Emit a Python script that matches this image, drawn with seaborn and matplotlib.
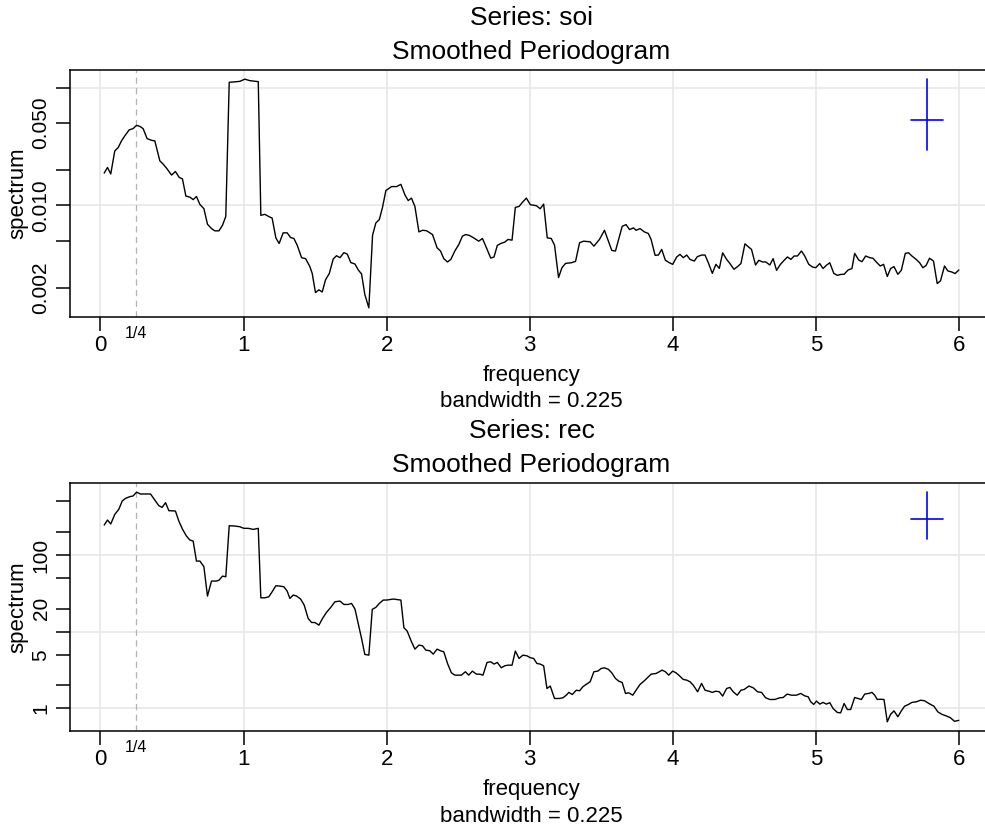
import numpy as np
import pandas as pd
import matplotlib
matplotlib.use("Agg")
import matplotlib.pyplot as plt
from matplotlib.ticker import FixedLocator, FixedFormatter, NullLocator
import seaborn as sns

# ---------------- data ----------------
soi_freq = [0.026, 0.049, 0.072, 0.100, 0.124, 0.147, 0.170, 0.200, 0.228, 0.252, 0.275, 0.298, 0.326, 0.357, 0.380,
            0.415, 0.438, 0.462, 0.497, 0.524, 0.550, 0.573, 0.597, 0.625, 0.648, 0.671, 0.695, 0.723, 0.748, 0.776,
            0.800, 0.828, 0.853, 0.876, 0.900, 0.928, 0.974, 1.009, 1.044, 1.103, 1.121, 1.149, 1.172, 1.200, 1.226,
            1.249, 1.277, 1.305, 1.329, 1.352, 1.375, 1.406, 1.434, 1.464, 1.480, 1.503, 1.527, 1.550, 1.573, 1.600,
            1.627, 1.650, 1.674, 1.702, 1.725, 1.750, 1.779, 1.802, 1.825, 1.848, 1.876, 1.902, 1.925, 1.949, 1.972,
            1.995, 2.035, 2.070, 2.100, 2.128, 2.151, 2.174, 2.198, 2.226, 2.251, 2.279, 2.321, 2.353, 2.377, 2.400,
            2.426, 2.449, 2.477, 2.505, 2.530, 2.553, 2.581, 2.609, 2.644, 2.670, 2.698, 2.728, 2.751, 2.774, 2.798,
            2.826, 2.849, 2.877, 2.900, 2.926, 2.949, 2.977, 3.005, 3.047, 3.074, 3.098, 3.123, 3.151, 3.174, 3.202,
            3.226, 3.251, 3.291, 3.321, 3.349, 3.377, 3.423, 3.449, 3.488, 3.523, 3.551, 3.574, 3.600, 3.623, 3.647,
            3.674, 3.698, 3.726, 3.744, 3.772, 3.802, 3.830, 3.849, 3.877, 3.900, 3.923, 3.949, 3.977, 4.000, 4.028,
            4.051, 4.074, 4.098, 4.121, 4.151, 4.172, 4.202, 4.226, 4.249, 4.277, 4.302, 4.326, 4.349, 4.377, 4.400,
            4.428, 4.453, 4.477, 4.505, 4.528, 4.551, 4.579, 4.602, 4.628, 4.651, 4.679, 4.702, 4.726, 4.753, 4.779,
            4.802, 4.826, 4.849, 4.872, 4.900, 4.923, 4.951, 4.977, 5.000, 5.028, 5.051, 5.074, 5.098, 5.126, 5.151,
            5.179, 5.198, 5.226, 5.253, 5.272, 5.300, 5.323, 5.349, 5.377, 5.400, 5.428, 5.451, 5.474, 5.500, 5.523,
            5.547, 5.574, 5.598, 5.626, 5.649, 5.672, 5.702, 5.726, 5.749, 5.772, 5.795, 5.823, 5.849, 5.872, 5.900,
            5.923, 5.951, 5.974, 6.000]
soi_spec = [0.0188, 0.0210, 0.0185, 0.0290, 0.0310, 0.0353, 0.0389, 0.0437, 0.0449, 0.0478, 0.0469, 0.0449, 0.0369,
            0.0357, 0.0353, 0.0239, 0.0224, 0.0207, 0.0181, 0.0194, 0.0173, 0.0168, 0.0120, 0.01175, 0.0112, 0.0119,
            0.0102, 0.00938, 0.00692, 0.00636, 0.00608, 0.00608, 0.00678, 0.00807, 0.111, 0.1116, 0.113, 0.118,
            0.1146, 0.1124, 0.00824, 0.0084, 0.0081, 0.0078, 0.0053, 0.00475, 0.00585, 0.00585, 0.00534, 0.00524,
            0.0046, 0.0036, 0.00353, 0.00302, 0.00265, 0.00182, 0.00192, 0.00184, 0.00233, 0.00265, 0.00351,
            0.00374, 0.0036, 0.00397, 0.00386, 0.00327, 0.00318, 0.00283, 0.00262, 0.00175, 0.00135, 0.00558,
            0.0071, 0.00757, 0.00968, 0.01337, 0.01445, 0.01445, 0.0151, 0.0123, 0.0110, 0.01153, 0.0098, 0.00596,
            0.00615, 0.0061, 0.00566, 0.00437, 0.0041, 0.00353, 0.00331, 0.00348, 0.0041, 0.00466, 0.00548,
            0.00566, 0.00555, 0.0053, 0.00497, 0.00524, 0.00437, 0.00357, 0.00365, 0.00457, 0.00475, 0.00488,
            0.00514, 0.00507, 0.00962, 0.0098, 0.0106, 0.01153, 0.01014, 0.00994, 0.00937, 0.01026, 0.0053,
            0.00524, 0.0046, 0.00244, 0.00296, 0.00322, 0.00326, 0.00335, 0.00482, 0.00497, 0.00491, 0.00451,
            0.00514, 0.00615, 0.00497, 0.00415, 0.0041, 0.0052, 0.00665, 0.00687, 0.00624, 0.00644, 0.00615,
            0.00635, 0.00596, 0.00577, 0.00514, 0.00377, 0.00379, 0.00423, 0.00342, 0.00326, 0.00316, 0.00365,
            0.00384, 0.0036, 0.00379, 0.00348, 0.00337, 0.00367, 0.00379, 0.00379, 0.00326, 0.00265, 0.00316,
            0.00292, 0.00396, 0.00348, 0.00321, 0.00287, 0.00302, 0.00321, 0.00472, 0.00446, 0.00423, 0.00312,
            0.00342, 0.00331, 0.00331, 0.00312, 0.00353, 0.00281, 0.00316, 0.00342, 0.00365, 0.00348, 0.00372,
            0.00372, 0.0041, 0.00372, 0.00316, 0.0030, 0.00296, 0.00321, 0.00291, 0.0031, 0.00326, 0.00265,
            0.00255, 0.0026, 0.0026, 0.00283, 0.00291, 0.00392, 0.00344, 0.00333, 0.00372, 0.0036, 0.00356,
            0.00326, 0.00306, 0.00316, 0.00249, 0.00291, 0.00302, 0.0026, 0.00281, 0.00392, 0.00396, 0.00372,
            0.00348, 0.00326, 0.00296, 0.0031, 0.00356, 0.00337, 0.00217, 0.00229, 0.00306, 0.00278, 0.00272,
            0.00264, 0.00283]

rec_freq = [0.026, 0.049, 0.072, 0.100, 0.128, 0.152, 0.175, 0.205, 0.228, 0.252, 0.280, 0.310, 0.350, 0.380, 0.408,
            0.431, 0.455, 0.478, 0.524, 0.548, 0.573, 0.601, 0.625, 0.648, 0.671, 0.695, 0.723, 0.748, 0.776, 0.811,
            0.830, 0.853, 0.876, 0.900, 0.939, 0.974, 1.002, 1.033, 1.068, 1.103, 1.121, 1.149, 1.177, 1.200, 1.226,
            1.254, 1.282, 1.305, 1.324, 1.347, 1.371, 1.399, 1.424, 1.452, 1.476, 1.499, 1.527, 1.552, 1.580, 1.608,
            1.639, 1.674, 1.702, 1.732, 1.755, 1.779, 1.802, 1.825, 1.848, 1.876, 1.900, 1.925, 1.949, 1.977, 2.000,
            2.047, 2.100, 2.121, 2.144, 2.174, 2.198, 2.226, 2.251, 2.274, 2.302, 2.326, 2.353, 2.377, 2.400, 2.426,
            2.453, 2.477, 2.523, 2.551, 2.574, 2.600, 2.628, 2.651, 2.674, 2.702, 2.728, 2.751, 2.774, 2.802, 2.826,
            2.849, 2.877, 2.900, 2.926, 2.953, 2.981, 3.005, 3.028, 3.051, 3.074, 3.098, 3.121, 3.144, 3.174, 3.209,
            3.233, 3.256, 3.274, 3.298, 3.326, 3.349, 3.372, 3.395, 3.423, 3.449, 3.477, 3.500, 3.523, 3.551, 3.574,
            3.600, 3.623, 3.647, 3.670, 3.693, 3.721, 3.744, 3.772, 3.802, 3.826, 3.849, 3.884, 3.926, 3.949, 3.972,
            4.000, 4.023, 4.047, 4.074, 4.098, 4.121, 4.144, 4.174, 4.202, 4.226, 4.253, 4.277, 4.300, 4.326, 4.349,
            4.377, 4.400, 4.423, 4.451, 4.477, 4.500, 4.533, 4.563, 4.593, 4.621, 4.649, 4.679, 4.714, 4.749, 4.772,
            4.800, 4.830, 4.865, 4.895, 4.923, 4.947, 4.965, 4.986, 5.005, 5.028, 5.051, 5.074, 5.098, 5.121, 5.151,
            5.174, 5.198, 5.221, 5.244, 5.272, 5.295, 5.319, 5.342, 5.370, 5.393, 5.412, 5.430, 5.453, 5.477, 5.500,
            5.523, 5.547, 5.574, 5.598, 5.621, 5.649, 5.672, 5.702, 5.733, 5.761, 5.791, 5.826, 5.853, 5.881, 5.912,
            5.940, 5.970, 6.000]
rec_spec = [246, 286, 254, 339, 394, 506, 548, 577, 589, 660, 625, 625, 625, 522, 440, 418, 482, 379, 375, 277, 218,
            177, 157, 152, 83.5, 83.5, 70.4, 29.2, 45.8, 45.8, 47.2, 53.2, 52.1, 241, 239, 234, 223, 223, 216, 223,
            27.7, 27.7, 28.6, 33.2, 39.8, 39.4, 38.6, 33.9, 27.2, 30.1, 29.2, 26.7, 22.3, 14.9, 13.2, 13.2, 12.2,
            14.9, 17.9, 20.6, 24.6, 25.1, 22.7, 22.7, 23.4, 19.8, 12.8, 8.19, 5.06, 4.96, 19.6, 20.8, 23.4, 25.9,
            25.9, 26.7, 25.9, 11.3, 10.2, 7.41, 5.94, 6.70, 6.57, 5.77, 5.65, 5.11, 5.94, 5.65, 5.48, 3.86, 2.92,
            2.72, 2.72, 3.01, 2.72, 3.07, 2.80, 2.80, 2.72, 3.98, 4.06, 3.79, 3.98, 3.39, 3.60, 3.67, 3.67, 5.60,
            4.49, 4.96, 4.86, 4.58, 4.49, 3.86, 3.79, 3.60, 1.82, 1.96, 1.35, 1.35, 1.38, 1.49, 1.62, 1.52, 1.73,
            1.70, 1.92, 2.06, 2.23, 3.01, 3.07, 3.32, 3.39, 3.23, 2.92, 2.46, 2.27, 2.18, 1.57, 1.60, 1.49, 1.73,
            2.06, 2.30, 2.54, 2.80, 2.86, 3.16, 3.01, 2.72, 3.07, 2.92, 2.67, 2.39, 2.34, 2.23, 2.01, 1.65, 2.12,
            1.73, 1.68, 1.62, 1.68, 1.65, 1.45, 1.82, 1.88, 1.65, 1.49, 1.73, 1.77, 1.96, 1.86, 1.65, 1.62, 1.38,
            1.31, 1.31, 1.38, 1.39, 1.54, 1.49, 1.49, 1.57, 1.46, 1.42, 1.22, 1.13, 1.25, 1.14, 1.20, 1.14, 1.19,
            1.00, 0.887, 0.877, 1.16, 0.97, 0.97, 1.39, 1.35, 1.31, 1.54, 1.57, 1.62, 1.49, 1.31, 1.32, 1.31, 0.67,
            0.84, 0.93, 0.78, 0.93, 1.07, 1.13, 1.20, 1.22, 1.28, 1.26, 1.16, 1.07, 0.905, 0.84, 0.80, 0.76, 0.68,
            0.70]

series_names = ["soi", "rec"]
bandwidth = 0.225
ci_lower, ci_upper = 0.555, 2.23
x_ticks = [0, 1, 2, 3, 4, 5, 6]
soi_yticks = [0.002, 0.005, 0.01, 0.02, 0.05, 0.1]
soi_ylabels = ["0.002", "", "0.010", "", "0.050", ""]
soi_ygrid = [0.001, 0.01, 0.1]
rec_yticks = [1, 2, 5, 10, 20, 50, 100, 200, 500]
rec_ylabels = ["1", "", "5", "", "20", "", "100", "", ""]
rec_ygrid = [1, 10, 100]

assert len(soi_freq) == len(soi_spec)
assert len(rec_freq) == len(rec_spec)

# ---------------- figure ----------------
sns.set_theme(style="white")
plt.rcParams["font.family"] = ["Liberation Sans", "DejaVu Sans"]
plt.rcParams["text.color"] = "black"
plt.rcParams["xtick.color"] = "black"
plt.rcParams["ytick.color"] = "black"
plt.rcParams["xtick.labelcolor"] = "black"
plt.rcParams["ytick.labelcolor"] = "black"
plt.rcParams["axes.labelcolor"] = "black"

W, H = 985, 827
fig = plt.figure(figsize=(W / 100, H / 100), dpi=100)
fig.patch.set_facecolor("white")

GRID_C = "#e6e6e6"


def panel(top, bottom, freq, spec, name, yticks, ylabels, ygrid):
    left, right = 70, 993
    ax = fig.add_axes([left / W, 1 - bottom / H, (right - left) / W, (bottom - top) / H])
    df = pd.DataFrame({"frequency": freq, "spectrum": spec})

    # grid
    for gx in x_ticks:
        ax.axvline(gx, color=GRID_C, lw=1.1, zorder=0)
    for gy in ygrid:
        ax.axhline(gy, color=GRID_C, lw=1.1, zorder=0)
    ax.axvline(0.25, color="#b3b3b3", lw=0.9, ls=(0, (5, 3.5)), zorder=1)

    sns.lineplot(data=df, x="frequency", y="spectrum", ax=ax, color="black",
                 lw=1.0, estimator=None, sort=False, zorder=3)

    ax.set_yscale("log")
    fmin, fmax = min(freq), max(freq)
    fr = fmax - fmin
    ax.set_xlim(fmin - 0.04 * fr, fmax + 0.04 * fr)
    lo, hi = np.log10(min(spec)), np.log10(max(spec))
    lr = hi - lo
    ax.set_ylim(10 ** (lo - 0.04 * lr), 10 ** (hi + 0.04 * lr))

    # confidence cross
    smax = max(spec)
    conf_x = fmax - bandwidth
    conf_y = smax / ci_upper
    ax.plot([conf_x, conf_x], [conf_y * ci_lower, conf_y * ci_upper], color="#0000ff", lw=1.2, zorder=4)
    ax.plot([conf_x - bandwidth / 2, conf_x + bandwidth / 2], [conf_y, conf_y], color="#0000ff", lw=1.2, zorder=4)

    ax.xaxis.set_major_locator(FixedLocator(x_ticks))
    ax.set_xticklabels([str(t) for t in x_ticks])
    ax.yaxis.set_major_locator(FixedLocator(yticks))
    ax.yaxis.set_major_formatter(FixedFormatter(ylabels))
    ax.yaxis.set_minor_locator(NullLocator())
    ax.xaxis.set_minor_locator(NullLocator())
    ax.tick_params(axis="both", which="major", direction="out", length=10, width=1.1,
                   color="black", labelcolor="black", bottom=True, left=True, top=False, right=False)
    ax.tick_params(axis="x", labelsize=16, pad=3)
    ax.tick_params(axis="y", labelsize=15, pad=4)
    for lab in ax.get_yticklabels():
        lab.set_rotation(90)
        lab.set_va("center")
    ax.set_xlabel("")
    ax.set_ylabel("")
    for sp in ax.spines.values():
        sp.set_visible(True)
        sp.set_color("black")
        sp.set_linewidth(1.1)
    ax.grid(False)

    ax.text(0.25, -16 / (bottom - top), "1/4", transform=ax.get_xaxis_transform(),
            ha="center", va="center", fontsize=11.5, color="black")

    cx = (left + right) / 2
    fig.text(cx / W, 1 - (top - 52) / H, f"Series: {name}", ha="center", va="center", fontsize=19, color="black")
    fig.text(cx / W, 1 - (top - 18) / H, "Smoothed Periodogram", ha="center", va="center", fontsize=19,
             color="black")
    fig.text(cx / W, 1 - (bottom + 58) / H, "frequency", ha="center", va="center", fontsize=16, color="black")
    fig.text(cx / W, 1 - (bottom + 85) / H, f"bandwidth = {bandwidth}", ha="center", va="center", fontsize=16,
             color="black")
    fig.text(18 / W, 1 - ((top + bottom) / 2) / H, "spectrum", ha="center", va="center",
             rotation=90, fontsize=16, color="black")
    return ax


panel(70, 317, soi_freq, soi_spec, series_names[0], soi_yticks, soi_ylabels, soi_ygrid)
panel(483, 731, rec_freq, rec_spec, series_names[1], rec_yticks, rec_ylabels, rec_ygrid)

fig.savefig("out.png", dpi=100, facecolor="white")
